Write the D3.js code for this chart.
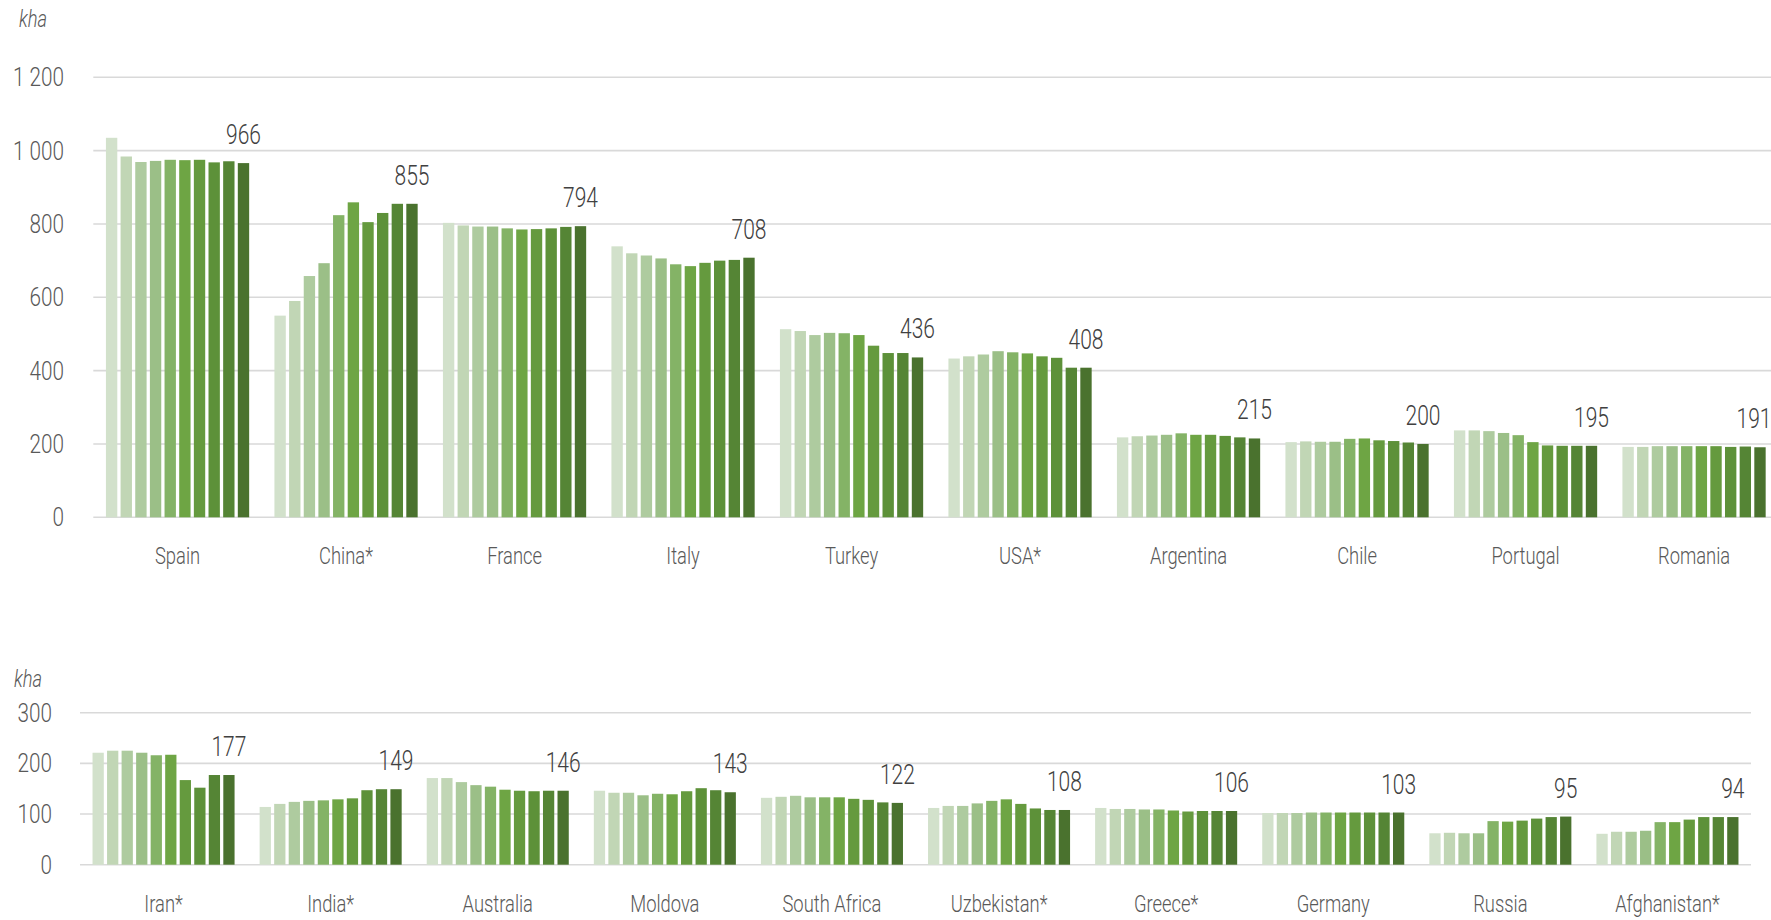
<!DOCTYPE html>
<html>
<head>
<meta charset="utf-8">
<script src="https://cdn.jsdelivr.net/npm/d3@7"></script>
<style>
  html, body { margin: 0; padding: 0; background: #fff; }
  svg { display: block; }
  text { font-family: "Roboto", "Liberation Sans", sans-serif; font-weight: 300; }
</style>
</head>
<body>
<svg id="chart" width="1771" height="920"></svg>
<script>
// ---- data ----
const years = ["2011","2012","2013","2014","2015","2016","2017","2018","2019","2020"];

const topCountries = ["Spain","China*","France","Italy","Turkey","USA*","Argentina","Chile","Portugal","Romania"];
const topValues = [
  [1035, 984, 969, 972, 975, 974, 975, 968, 971, 966],
  [550, 590, 658, 693, 824, 859, 805, 830, 855, 855],
  [803, 796, 793, 793, 788, 785, 786, 788, 792, 794],
  [739, 720, 714, 706, 690, 685, 694, 700, 702, 708],
  [513, 508, 497, 503, 502, 497, 468, 448, 448, 436],
  [433, 439, 444, 453, 450, 447, 439, 435, 408, 408],
  [218, 221, 223, 225, 229, 225, 225, 222, 218, 215],
  [205, 207, 206, 206, 214, 215, 210, 208, 204, 200],
  [237, 237, 235, 230, 224, 205, 196, 195, 195, 195],
  [192, 192, 194, 194, 194, 194, 194, 192, 193, 191]
];
const topTicks = [0, 200, 400, 600, 800, 1000, 1200];
const topTickLabels = ["0", "200", "400", "600", "800", "1 000", "1 200"];

const bottomCountries = ["Iran*","India*","Australia","Moldova","South Africa","Uzbekistan*","Greece*","Germany","Russia","Afghanistan*"];
const bottomValues = [
  [221, 225, 225, 221, 216, 217, 167, 152, 177, 177],
  [114, 120, 124, 126, 127, 129, 131, 147, 149, 149],
  [171, 171, 163, 157, 154, 148, 146, 145, 146, 146],
  [146, 142, 142, 137, 140, 139, 145, 151, 147, 143],
  [132, 134, 136, 133, 133, 133, 130, 128, 123, 122],
  [112, 116, 116, 121, 126, 129, 120, 111, 108, 108],
  [112, 110, 110, 109, 109, 107, 105, 106, 106, 106],
  [102, 102, 102, 103, 103, 103, 103, 103, 103, 103],
  [62, 63, 62, 62, 86, 85, 87, 91, 94, 95],
  [61, 65, 65, 67, 84, 84, 89, 94, 94, 94]
];
const bottomTicks = [0, 100, 200, 300];
const bottomTickLabels = ["0", "100", "200", "300"];

const unitLabel = "kha";
const yearColors = ["#d2e1cb","#c1d6b5","#aecb9f","#9bbf87","#84b366","#6ea544","#659a3e","#5d9139","#558535","#4a722e"];

// ---- drawing ----
const W = 1771;
const svg = d3.select("#chart");
const color = d3.scaleOrdinal().domain(years).range(yearColors);

function panel(cfg) {
  const g = svg.append("g");
  const x0 = d3.scaleBand().domain(cfg.countries).range([cfg.x0, cfg.x1])
    .paddingInner(0.15).paddingOuter(0.075);
  const x1 = d3.scaleBand().domain(years).range([0, x0.bandwidth()]).paddingInner(0.225).paddingOuter(0);
  const y = d3.scaleLinear().domain(cfg.domain).range([cfg.yBottom, cfg.yTop]);

  // gridlines
  g.selectAll("line.grid").data(cfg.ticks).join("line")
    .attr("x1", cfg.x0).attr("x2", cfg.gridEnd)
    .attr("y1", d => y(d)).attr("y2", d => y(d))
    .attr("stroke", "#d9d9d9").attr("stroke-width", 1.6);

  // tick labels
  g.selectAll("text.tick").data(cfg.ticks).join("text")
    .attr("transform", d => `translate(${cfg.tickX},${y(d)}) scale(0.83,1)`)
    .attr("dy", "0.36em")
    .attr("text-anchor", "end")
    .attr("font-size", 25).attr("fill", "#595959")
    .text((d, i) => cfg.tickLabels[i]);

  // unit label
  g.append("text")
    .attr("transform", `translate(${cfg.unitX},${cfg.unitY}) scale(0.8,1)`)
    .attr("font-size", 23).attr("font-style", "italic").attr("fill", "#595959")
    .text(unitLabel);

  // bars
  const groups = g.selectAll("g.country").data(cfg.countries).join("g")
    .attr("transform", d => `translate(${x0(d)},0)`);
  groups.selectAll("rect").data((c, i) => years.map((yr, j) => ({ yr, v: cfg.values[i][j] })))
    .join("rect")
    .attr("x", d => x1(d.yr)).attr("width", x1.bandwidth())
    .attr("y", d => y(d.v)).attr("height", d => y(0) - y(d.v))
    .attr("fill", d => color(d.yr));

  // value labels on last bar
  const last = years[years.length - 1];
  groups.append("text")
    .attr("transform", (c, i) => {
      let cx = x0(c) + x1(last) + x1.bandwidth() / 2;
      cx = Math.min(cx, W - 17);
      return `translate(${cx - x0(c)},${y(cfg.values[i][years.length - 1]) - 19}) scale(0.75,1)`;
    })
    .attr("text-anchor", "middle")
    .attr("font-size", 28).attr("fill", "#404040")
    .text((c, i) => cfg.values[i][years.length - 1]);

  // category labels
  groups.append("text")
    .attr("transform", `translate(${x0.bandwidth() / 2},${cfg.labelY}) scale(0.75,1)`)
    .attr("text-anchor", "middle")
    .attr("font-size", 24.5).attr("fill", "#595959")
    .text(d => d);
}

panel({
  countries: topCountries, values: topValues, domain: [0, 1200],
  ticks: topTicks, tickLabels: topTickLabels,
  x0: 93.3, x1: 1778.3, gridEnd: 1771, yBottom: 517.3, yTop: 77.3,
  tickX: 64, unitX: 19, unitY: 27, labelY: 564
});

panel({
  countries: bottomCountries, values: bottomValues, domain: [0, 300],
  ticks: bottomTicks, tickLabels: bottomTickLabels,
  x0: 80, x1: 1751, gridEnd: 1751, yBottom: 864.7, yTop: 712.7,
  tickX: 52, unitX: 14, unitY: 687, labelY: 912
});
</script>
</body>
</html>
